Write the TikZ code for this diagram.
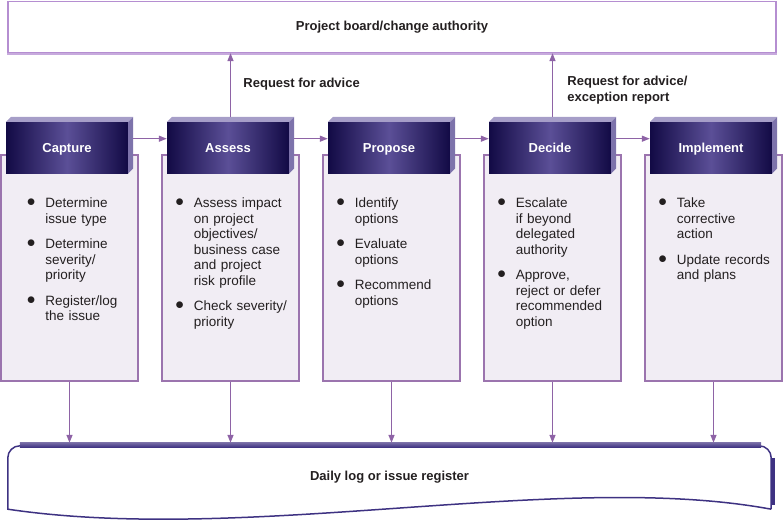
\documentclass[tikz,border=0pt]{standalone}
\usepackage{fontspec}
\setmainfont{Liberation Sans}
\usepackage{graphicx}
\usetikzlibrary{positioning,arrows.meta}

\definecolor{headdark}{HTML}{120A45}
\definecolor{headmid}{HTML}{5B4F97}
\definecolor{topc}{HTML}{A69EC8}
\definecolor{sidec}{HTML}{7D73AB}
\definecolor{bodyfill}{HTML}{F1EDF4}
\definecolor{bodyline}{HTML}{9B74AE}
\definecolor{arrowc}{HTML}{8E63A6}
\definecolor{boardc}{HTML}{B58ED1}
\definecolor{logc}{HTML}{3E3282}
\definecolor{logtop}{HTML}{7A70A8}
\definecolor{textc}{HTML}{231F20}

% bullet line with hanging indent
\newcommand{\bpt}[1][18.5pt]{\par\hangindent=#1\hangafter=1\noindent
  \makebox[#1][l]{\raisebox{1pt}{\scalebox{1.2}{$\bullet$}}}}
\newcommand{\gap}{\par\vskip10pt}
\newcommand{\nl}{\newline}

\begin{document}
\begin{tikzpicture}[x=1pt, y=-1pt, >={Triangle[length=8pt,width=6pt]},
  every node/.style={text=textc, font=\fontsize{13.5}{15.5}\selectfont},
  head/.style={minimum width=122pt, minimum height=51pt, inner sep=0pt,
    text height=9.5pt, text depth=0pt,
    left color=headdark, right color=headdark, middle color=headmid,
    text=white, font=\bfseries\fontsize{13}{15}\selectfont},
  body/.style={draw=bodyline, fill=bodyfill, line width=1.6pt,
    minimum width=137pt, minimum height=226pt, inner sep=0pt},
  items/.style={anchor=north west, text width=130pt, inner sep=0pt,
    execute at begin node={\raggedright\hyphenpenalty=10000}},
  flow/.style={->, draw=arrowc, line width=1.3pt},
  label/.style={font=\bfseries\fontsize{13}{16}\selectfont, align=left}]
	\useasboundingbox (0,0) rectangle (784,524);

	% 1. board and log
	\node[draw=boardc, line width=1.3pt, minimum width=768pt, minimum height=51pt,
	  font=\bfseries\fontsize{13}{15}\selectfont] (board) at (392,27) {Project board/change authority};
	\draw[boardc!75, line width=2.5pt] ([yshift=-1pt]board.south west) -- ([yshift=-1pt]board.south east);

	\node[minimum width=763pt, minimum height=63pt, inner sep=0pt,
	  font=\bfseries\fontsize{13}{15}\selectfont] (log) at (389.5,477.5) {Daily log or issue register};
	\draw[logc, line width=1.5pt] (log.south east) .. controls (560,470) and (250,545) .. (log.south west)
	  [rounded corners=12pt] -- (log.north west) -- (log.north east) -- (log.south east);
	\shade[top color=logtop, bottom color=logc] ([xshift=12pt,yshift=3.5pt]log.north west) rectangle ([xshift=-10pt,yshift=-1.5pt]log.north east);
	\draw[logc, line width=3.5pt] ([xshift=2pt,yshift=-12pt]log.north east) -- ([xshift=2pt,yshift=4pt]log.south east);

	% 2. bodies
	\node[body] (capb) at (69.5,268) {};
	\node[body] (assb) at (230.5,268) {};
	\node[body] (prob) at (391.5,268) {};
	\node[body] (decb) at (552.5,268) {};
	\node[body] (impb) at (713.5,268) {};

	% 3. headers (front, top and side faces)
	\node[head] (cap) at ([xshift=-2.5pt,yshift=6.5pt]capb.north) {Capture};
	\node[head] (ass) at ([xshift=-2.5pt,yshift=6.5pt]assb.north) {Assess};
	\node[head] (pro) at ([xshift=-2.5pt,yshift=6.5pt]prob.north) {Propose};
	\node[head] (dec) at ([xshift=-2.5pt,yshift=6.5pt]decb.north) {Decide};
	\node[head] (imp) at ([xshift=-2.5pt,yshift=6.5pt]impb.north) {Implement};
	\foreach \h in {cap,ass,pro,dec,imp} {
		\fill[topc] (\h.north west) -- ++(5,-5) -- ([shift={(5pt,5pt)}]\h.north east) -- (\h.north east) -- cycle;
		\fill[sidec] (\h.north east) -- ++(5,-5) -- ([shift={(5pt,5pt)}]\h.south east) -- (\h.south east) -- cycle;
	}

	% 4. bullet texts
	\node[items] (capt) at ([xshift=26.5pt,yshift=-38pt]capb.north west)
	  {\bpt Determine\nl issue type\gap\bpt Determine\nl severity/\nl priority\gap\bpt Register/log\nl the issue\par};
	\node[items] (asst) at ([xshift=14pt,yshift=-38pt]assb.north west)
	  {\bpt Assess impact\nl on project\nl objectives/\nl business case\nl and project\nl risk profile\gap\bpt Check severity/\nl priority\par};
	\node[items] (prot) at ([xshift=14pt,yshift=-38pt]prob.north west)
	  {\bpt Identify\nl options\gap\bpt Evaluate\nl options\gap\bpt Recommend\nl options\par};
	\node[items] (dect) at ([xshift=14pt,yshift=-38pt]decb.north west)
	  {\bpt Escalate\nl if beyond\nl delegated\nl authority\gap\bpt Approve,\nl reject or defer\nl recommended\nl option\par};
	\node[items] (impt) at ([xshift=14pt,yshift=-38pt]impb.north west)
	  {\bpt Take\nl corrective\nl action\gap\bpt Update records\nl and plans\par};

	% 5. connectors
	\draw[flow] ([shift={(5pt,9pt)}]cap.east) -- ([yshift=9pt]ass.west);
	\draw[flow] ([shift={(5pt,9pt)}]ass.east) -- ([yshift=9pt]pro.west);
	\draw[flow] ([shift={(5pt,9pt)}]pro.east) -- ([yshift=9pt]dec.west);
	\draw[flow] ([shift={(5pt,9pt)}]dec.east) -- ([yshift=9pt]imp.west);

	\coordinate (assup) at ([shift={(2.5pt,5pt)}]ass.north);
	\coordinate (decup) at ([shift={(2.5pt,5pt)}]dec.north);
	\draw[flow] (assup) -- (assup |- board.south) node[label, pos=0.52, right=9pt] {Request for advice};
	\draw[flow] (decup) -- (decup |- board.south) node[label, pos=0.42, right=11pt] {Request for advice/\\exception report};

	\foreach \b in {capb,assb,prob,decb,impb}
		\draw[flow, shorten >=3pt] (\b.south) -- (\b.south |- log.north);
\end{tikzpicture}
\end{document}
